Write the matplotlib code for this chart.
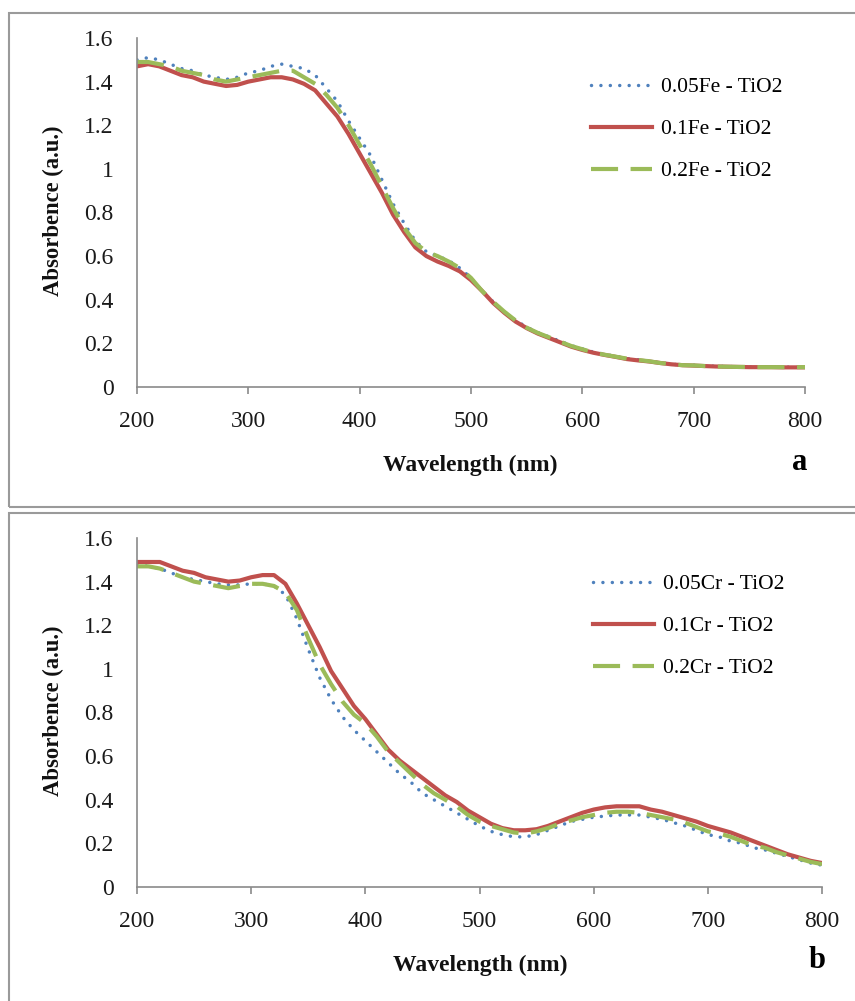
import matplotlib
matplotlib.use('Agg')
import matplotlib.pyplot as plt
from matplotlib.patches import Rectangle

plt.rcParams['font.family'] = ['Liberation Serif', 'DejaVu Serif']

# wavelength grid (nm)
wavelength = [200, 210, 220, 230, 240, 250, 260, 270, 280, 290,
              300, 310, 320, 330, 340, 350, 360, 370, 380, 390,
              400, 410, 420, 430, 440, 450, 460, 470, 480, 490,
              500, 510, 520, 530, 540, 550, 560, 570, 580, 590,
              600, 610, 620, 630, 640, 650, 660, 670, 680, 690,
              700, 710, 720, 730, 740, 750, 760, 770, 780, 790, 800]

# panel a: Fe doped TiO2
fe_005 = [1.50, 1.51, 1.50, 1.48, 1.46, 1.45, 1.43, 1.42, 1.41, 1.42,
          1.44, 1.45, 1.47, 1.48, 1.47, 1.46, 1.43, 1.37, 1.31, 1.22,
          1.14, 1.06, 0.95, 0.84, 0.75, 0.67, 0.62, 0.60, 0.58, 0.545,
          0.50, 0.44, 0.39, 0.345, 0.305, 0.275, 0.25, 0.23, 0.21, 0.19,
          0.175, 0.16, 0.15, 0.14, 0.13, 0.125, 0.12, 0.11, 0.105, 0.10,
          0.10, 0.097, 0.095, 0.094, 0.093, 0.092, 0.092, 0.092, 0.091, 0.091, 0.091]
fe_01 = [1.47, 1.48, 1.47, 1.45, 1.43, 1.42, 1.40, 1.39, 1.38, 1.385,
         1.40, 1.41, 1.42, 1.42, 1.41, 1.39, 1.36, 1.30, 1.24, 1.16,
         1.07, 0.98, 0.89, 0.79, 0.71, 0.64, 0.60, 0.575, 0.555, 0.53,
         0.49, 0.44, 0.385, 0.34, 0.30, 0.27, 0.245, 0.225, 0.205, 0.185,
         0.17, 0.157, 0.147, 0.138, 0.128, 0.122, 0.117, 0.11, 0.104, 0.10,
         0.098, 0.096, 0.094, 0.093, 0.092, 0.091, 0.091, 0.091, 0.09, 0.09, 0.09]
fe_02 = [1.49, 1.49, 1.48, 1.47, 1.45, 1.44, 1.43, 1.41, 1.40, 1.41,
         1.42, 1.43, 1.44, 1.45, 1.45, 1.42, 1.39, 1.34, 1.28, 1.20,
         1.11, 1.02, 0.92, 0.82, 0.73, 0.66, 0.62, 0.60, 0.575, 0.545,
         0.50, 0.44, 0.39, 0.345, 0.305, 0.272, 0.248, 0.228, 0.208, 0.188,
         0.173, 0.158, 0.148, 0.139, 0.13, 0.124, 0.118, 0.11, 0.105, 0.10,
         0.099, 0.096, 0.094, 0.093, 0.092, 0.092, 0.091, 0.091, 0.091, 0.091, 0.091]

# panel b: Cr doped TiO2
cr_005 = [1.48, 1.47, 1.46, 1.44, 1.42, 1.41, 1.40, 1.39, 1.385, 1.385,
          1.39, 1.39, 1.38, 1.34, 1.23, 1.09, 0.96, 0.86, 0.78, 0.72,
          0.67, 0.62, 0.57, 0.52, 0.48, 0.43, 0.40, 0.37, 0.34, 0.31,
          0.28, 0.255, 0.24, 0.23, 0.23, 0.24, 0.26, 0.28, 0.30, 0.31,
          0.32, 0.325, 0.33, 0.33, 0.33, 0.32, 0.31, 0.295, 0.28, 0.26,
          0.24, 0.23, 0.21, 0.20, 0.18, 0.17, 0.155, 0.14, 0.125, 0.11, 0.10]
cr_01 = [1.49, 1.49, 1.49, 1.47, 1.45, 1.44, 1.42, 1.41, 1.40, 1.405,
         1.42, 1.43, 1.43, 1.39, 1.30, 1.20, 1.10, 0.99, 0.91, 0.83,
         0.77, 0.70, 0.63, 0.58, 0.54, 0.50, 0.46, 0.42, 0.39, 0.35,
         0.32, 0.29, 0.27, 0.26, 0.26, 0.265, 0.28, 0.30, 0.32, 0.34,
         0.355, 0.365, 0.37, 0.37, 0.37, 0.355, 0.345, 0.33, 0.315, 0.30,
         0.28, 0.265, 0.25, 0.23, 0.21, 0.19, 0.17, 0.15, 0.135, 0.12, 0.11]
cr_02 = [1.47, 1.47, 1.46, 1.44, 1.42, 1.40, 1.39, 1.38, 1.37, 1.38,
         1.39, 1.39, 1.38, 1.35, 1.27, 1.14, 1.02, 0.93, 0.85, 0.79,
         0.75, 0.69, 0.62, 0.57, 0.52, 0.47, 0.43, 0.40, 0.37, 0.33,
         0.30, 0.28, 0.265, 0.25, 0.245, 0.255, 0.27, 0.29, 0.305, 0.32,
         0.33, 0.34, 0.345, 0.345, 0.34, 0.33, 0.32, 0.31, 0.295, 0.275,
         0.255, 0.245, 0.23, 0.21, 0.19, 0.18, 0.16, 0.145, 0.13, 0.115, 0.105]

fe_labels = ['0.05Fe - TiO2', '0.1Fe - TiO2', '0.2Fe - TiO2']
cr_labels = ['0.05Cr - TiO2', '0.1Cr - TiO2', '0.2Cr - TiO2']
yticks = [0, 0.2, 0.4, 0.6, 0.8, 1, 1.2, 1.4, 1.6]
ytick_labels = ['0', '0.2', '0.4', '0.6', '0.8', '1', '1.2', '1.4', '1.6']
xticks = [200, 300, 400, 500, 600, 700, 800]

BLUE = '#4F81BD'
RED = '#C0504D'
GREEN = '#9BBB59'
W, H = 855, 1001


def fx(px):
    return px / W


def fy(py):
    return 1 - py / H


def drawPanel(ax, series, labels, leg_xy):
    ax.plot(wavelength, series[0], color=BLUE, lw=2.5,
            linestyle=(0, (0.01, 2.7)), dash_capstyle='round', label=labels[0])
    ax.plot(wavelength, series[1], color=RED, lw=3.0, label=labels[1])
    ax.plot(wavelength, series[2], color=GREEN, lw=3.0,
            linestyle=(0, (6.5, 3)), label=labels[2])
    ax.set_xlim(200, 800)
    ax.set_ylim(0, 1.6)
    ax.set_xticks(xticks)
    ax.set_yticks(yticks)
    ax.set_yticklabels(ytick_labels)
    for s in ['top', 'right']:
        ax.spines[s].set_visible(False)
    for s in ['left', 'bottom']:
        ax.spines[s].set_color('#8a8a8a')
        ax.spines[s].set_linewidth(1.2)
    ax.tick_params(axis='x', direction='out', length=5, width=1.2,
                   color='#8a8a8a', pad=12, labelsize=17, labelcolor='#1a1a1a')
    ax.tick_params(axis='y', length=0, pad=17, labelsize=17, labelcolor='#1a1a1a')
    ax.legend(loc='upper left', bbox_to_anchor=leg_xy, bbox_transform=fig.transFigure,
              frameon=False, fontsize=15.5, handlelength=2.85, handletextpad=0.4,
              labelspacing=1.02, borderpad=0, borderaxespad=0)


fig = plt.figure(figsize=(8.55, 10.01), dpi=100)

# panel frames
fig.patches.append(Rectangle((fx(9), fy(507)), fx(870) - fx(9), fy(13) - fy(507),
                             transform=fig.transFigure, fill=False,
                             edgecolor='#9a9a9a', lw=1.5))
fig.patches.append(Rectangle((fx(9), fy(1020)), fx(870) - fx(9), fy(513) - fy(1020),
                             transform=fig.transFigure, fill=False,
                             edgecolor='#9a9a9a', lw=1.5))

ax1 = fig.add_axes([fx(137), fy(387), fx(805) - fx(137), fy(38) - fy(387)])
drawPanel(ax1, [fe_005, fe_01, fe_02], fe_labels, (fx(591), fy(77)))

ax2 = fig.add_axes([fx(137), fy(887), fx(822) - fx(137), fy(538) - fy(887)])
drawPanel(ax2, [cr_005, cr_01, cr_02], cr_labels, (fx(593), fy(574)))

fig.text(fx(53), fy(211), 'Absorbence (a.u.)', rotation=90, fontsize=16.3,
         fontweight='bold', color='#111111', ha='center', va='center')
fig.text(fx(470), fy(465), 'Wavelength (nm)', fontsize=17,
         fontweight='bold', color='#111111', ha='center', va='center')
fig.text(fx(53), fy(711), 'Absorbence (a.u.)', rotation=90, fontsize=16.3,
         fontweight='bold', color='#111111', ha='center', va='center')
fig.text(fx(480), fy(965), 'Wavelength (nm)', fontsize=17,
         fontweight='bold', color='#111111', ha='center', va='center')

fig.text(fx(800), fy(463), 'a', fontsize=22, fontweight='bold', ha='center', va='center')
fig.text(fx(817), fy(961), 'b', fontsize=22, fontweight='bold', ha='center', va='center')

fig.savefig('out.png', dpi=100)
